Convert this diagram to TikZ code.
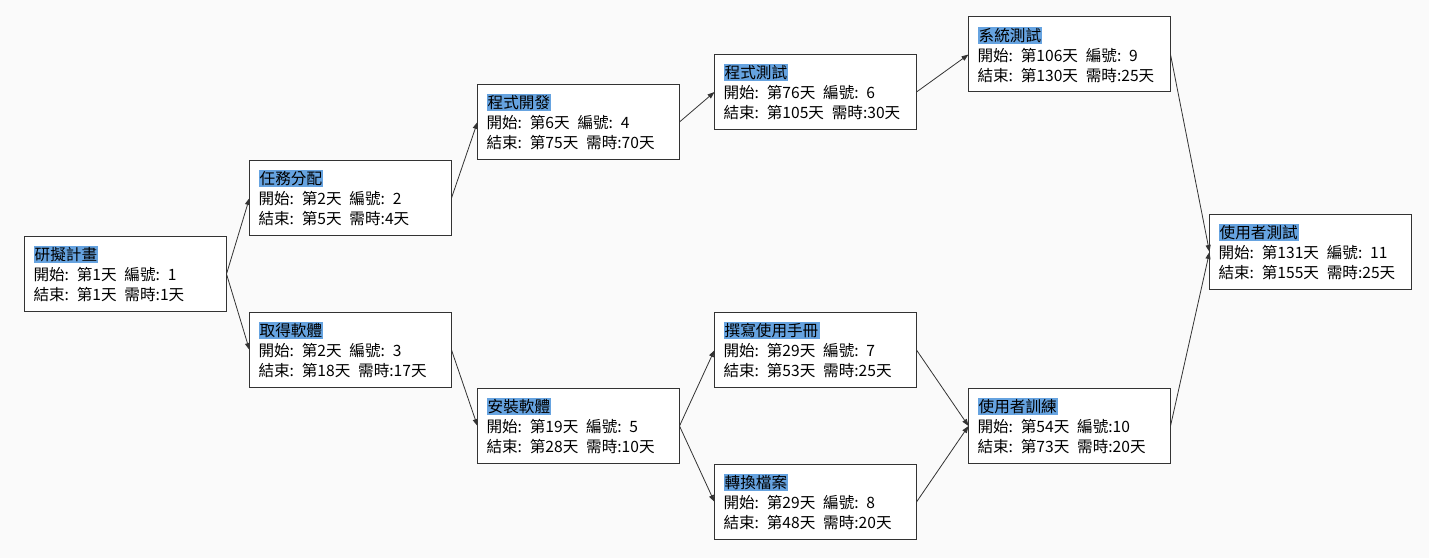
\documentclass[tikz,border=0pt]{standalone}
\usepackage{fontspec}
\setmainfont{Noto Sans CJK TC}
\usetikzlibrary{positioning,arrows.meta}
\definecolor{titlebg}{RGB}{102,163,224}
\definecolor{boxline}{RGB}{51,51,51}
\definecolor{pagebg}{RGB}{250,250,250}
\setlength{\parindent}{0pt}
\newcommand{\tasktitle}[1]{{\setlength{\fboxsep}{1.2pt}\colorbox{titlebg}{#1}}}
\newcommand{\colgap}{\hspace*{0.5em}}

\begin{document}
\begin{tikzpicture}[taskbox/.style={draw=boxline,line width=1pt,fill=white,outer sep=0pt,minimum width=202pt,minimum height=75pt,text width=184pt,inner xsep=9pt,align=left,font=\fontsize{15.6}{20}\selectfont},
		flow/.style={draw=boxline,line width=0.8pt,-{Triangle[length=7pt,width=5pt]}}]
		\fill[pagebg] (0,0) rectangle (1429pt,558pt);
		\useasboundingbox (0,0) rectangle (1429pt,558pt);

		\node[taskbox] at (125.5pt,284pt)									(1)		{\tasktitle{研擬計畫}\\開始: 第1天\colgap 編號: 1\\結束: 第1天\colgap 需時:1天};
		\node[taskbox,node distance=23pt,right=of 1,yshift=76pt]			(2)		{\tasktitle{任務分配}\\開始: 第2天\colgap 編號: 2\\結束: 第5天\colgap 需時:4天};
		\node[taskbox,node distance=23pt,right=of 1,yshift=-76pt]			(3)		{\tasktitle{取得軟體}\\開始: 第2天\colgap 編號: 3\\結束: 第18天\colgap 需時:17天};
		\node[taskbox,node distance=26pt,right=of 2,yshift=76pt]			(4)		{\tasktitle{程式開發}\\開始: 第6天\colgap 編號: 4\\結束: 第75天\colgap 需時:70天};
		\node[taskbox,node distance=26pt,right=of 3,yshift=-76pt]			(5)		{\tasktitle{安裝軟體}\\開始: 第19天\colgap 編號: 5\\結束: 第28天\colgap 需時:10天};
		\node[taskbox,node distance=35pt,right=of 4,yshift=30pt]			(6)		{\tasktitle{程式測試}\\開始: 第76天\colgap 編號: 6\\結束: 第105天\colgap 需時:30天};
		\node[taskbox,node distance=35pt,right=of 5,yshift=76pt]			(7)		{\tasktitle{撰寫使用手冊}\\開始: 第29天\colgap 編號: 7\\結束: 第53天\colgap 需時:25天};
		\node[taskbox,node distance=35pt,right=of 5,yshift=-76pt]			(8)		{\tasktitle{轉換檔案}\\開始: 第29天\colgap 編號: 8\\結束: 第48天\colgap 需時:20天};
		\node[taskbox,node distance=52pt,right=of 6,yshift=37.5pt]			(9)		{\tasktitle{系統測試}\\開始: 第106天\colgap 編號: 9\\結束: 第130天\colgap 需時:25天};
		\node[taskbox,node distance=52pt,right=of 7,yshift=-76pt]			(10)	{\tasktitle{使用者訓練}\\開始: 第54天\colgap 編號:10\\結束: 第73天\colgap 需時:20天};
		\node[taskbox,node distance=39pt,right=of 9,yshift=-197.5pt]		(11)	{\tasktitle{使用者測試}\\開始: 第131天\colgap 編號: 11\\結束: 第155天\colgap 需時:25天};

		\draw[flow] (1.east) -- (2.west);
		\draw[flow] (1.east) -- (3.west);
		\draw[flow] (2.east) -- (4.west);
		\draw[flow] (3.east) -- (5.west);
		\draw[flow] (4.east) -- (6.west);
		\draw[flow] (5.east) -- (7.west);
		\draw[flow] (5.east) -- (8.west);
		\draw[flow] (6.east) -- (9.west);
		\draw[flow] (7.east) -- (10.west);
		\draw[flow] (8.east) -- (10.west);
		\draw[flow] (9.east) -- (11.west);
		\draw[flow] (10.east) -- (11.west);
	\end{tikzpicture}
\end{document}
